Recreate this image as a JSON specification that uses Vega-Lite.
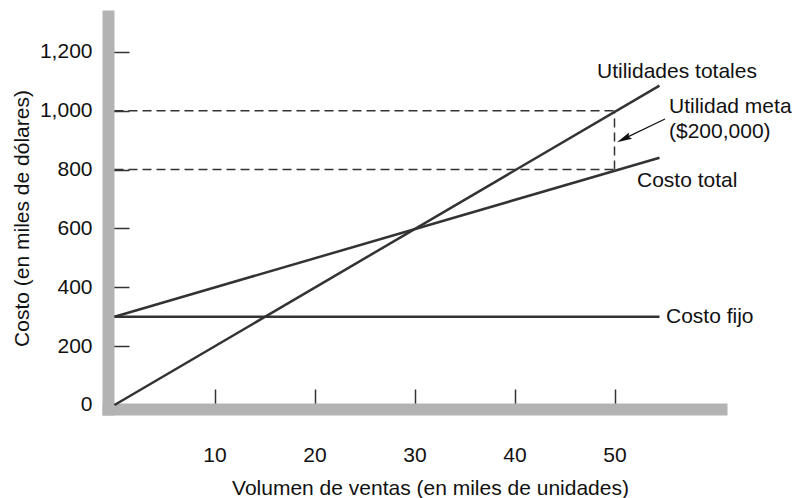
{
  "$schema": "https://vega.github.io/schema/vega-lite/v6.json",
  "width": 613,
  "height": 393,
  "autosize": "none",
  "padding": {"left": 108, "top": 16, "right": 74, "bottom": 89},
  "background": "white",
  "config": {
    "view": {"stroke": null},
    "font": "Liberation Sans",
    "axis": {
      "grid": false,
      "domainColor": "#b3b3b3",
      "domainWidth": 12,
      "domainCap": "square",
      "tickWidth": 1.5,
      "labelFont": "Liberation Sans",
      "labelFontSize": 21,
      "labelColor": "#111",
      "titleFont": "Liberation Sans",
      "titleFontSize": 21,
      "titleFontWeight": "normal",
      "titleColor": "#111"
    }
  },
  "datasets": {
    "lines": [
      {"serie": "Utilidades totales", "x": 0, "y": 0},
      {"serie": "Utilidades totales", "x": 54.5, "y": 1085},
      {"serie": "Costo total", "x": 0, "y": 300},
      {"serie": "Costo total", "x": 54.5, "y": 840},
      {"serie": "Costo fijo", "x": 0, "y": 300},
      {"serie": "Costo fijo", "x": 54.5, "y": 300}
    ],
    "dashed": [
      {"serie": "meta 1000", "x": 0, "y": 1000},
      {"serie": "meta 1000", "x": 50, "y": 1000},
      {"serie": "meta 800", "x": 0, "y": 800},
      {"serie": "meta 800", "x": 50, "y": 800},
      {"serie": "meta vertical", "x": 50, "y": 800},
      {"serie": "meta vertical", "x": 50, "y": 1000}
    ],
    "labels": [
      {"text": "Utilidades totales", "x": 48.25, "y": 1131},
      {"text": "Utilidad meta", "x": 55.45, "y": 1012},
      {"text": "($200,000)", "x": 55.45, "y": 927},
      {"text": "Costo total", "x": 52.25, "y": 761},
      {"text": "Costo fijo", "x": 55.15, "y": 299}
    ],
    "arrow": [
      {"x": 55.05, "y": 971.5, "x2": 50.65, "y2": 900}
    ],
    "arrowhead": [
      {"x": 50.93, "y": 904}
    ]
  },
  "layer": [
    {
      "data": {"name": "dashed"},
      "mark": {"type": "line", "color": "#333", "strokeWidth": 1.5, "strokeDash": [9, 5]},
      "encoding": {
        "x": {
          "field": "x", "type": "quantitative",
          "scale": {"domain": [-0.65, 60.65], "nice": false, "zero": false},
          "axis": {
            "values": [10, 20, 30, 40, 50],
            "format": "d",
            "tickSize": -20,
            "tickColor": "#333",
            "labelPadding": 55,
            "title": "Volumen de ventas (en miles de unidades)",
            "titleX": 322,
            "titleY": 79,
            "titleBaseline": "middle",
            "titleAlign": "center"
          }
        },
        "y": {
          "field": "y", "type": "quantitative",
          "scale": {"domain": [-13.6, 1321.5], "nice": false, "zero": false},
          "axis": {
            "values": [0, 200, 400, 600, 800, 1000, 1200],
            "format": ",d",
            "tickSize": -21,
            "tickColor": {"condition": {"test": "datum.value === 0", "value": "transparent"}, "value": "#333"},
            "labelPadding": 37,
            "title": "Costo (en miles de dólares)",
            "titleX": -86,
            "titleY": 202,
            "titleAngle": -90,
            "titleBaseline": "middle",
            "titleAlign": "center"
          }
        },
        "detail": {"field": "serie"}
      }
    },
    {
      "data": {"name": "lines"},
      "mark": {"type": "line", "color": "#333", "strokeWidth": 2.5},
      "encoding": {
        "x": {"field": "x", "type": "quantitative"},
        "y": {"field": "y", "type": "quantitative"},
        "detail": {"field": "serie"}
      }
    },
    {
      "data": {"name": "arrow"},
      "mark": {"type": "rule", "color": "#111", "strokeWidth": 1.3},
      "encoding": {
        "x": {"field": "x", "type": "quantitative"},
        "y": {"field": "y", "type": "quantitative"},
        "x2": {"field": "x2"},
        "y2": {"field": "y2"}
      }
    },
    {
      "data": {"name": "arrowhead"},
      "mark": {"type": "point", "shape": "M0,-1L0.45,1L0,0.7L-0.45,1Z", "filled": true, "color": "#111", "size": 225, "angle": 244.4, "opacity": 1},
      "encoding": {
        "x": {"field": "x", "type": "quantitative"},
        "y": {"field": "y", "type": "quantitative"}
      }
    },
    {
      "data": {"name": "labels"},
      "mark": {"type": "text", "align": "left", "baseline": "middle", "font": "Liberation Sans", "fontSize": 21, "color": "#111"},
      "encoding": {
        "x": {"field": "x", "type": "quantitative"},
        "y": {"field": "y", "type": "quantitative"},
        "text": {"field": "text"}
      }
    }
  ]
}
